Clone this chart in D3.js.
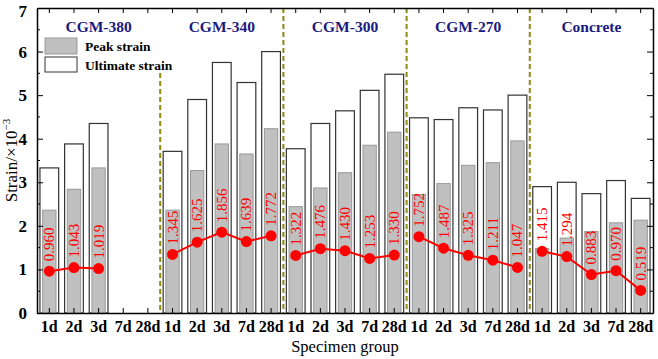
<!DOCTYPE html>
<html>
<head>
<meta charset="utf-8">
<script src="https://cdn.jsdelivr.net/npm/d3@7"></script>
<style>
  body { margin: 0; background: #fff; }
</style>
</head>
<body>
<div id="chart"></div>
<script>
// group names and ages
const groups = ["CGM-380", "CGM-340", "CGM-300", "CGM-270", "Concrete"];
const ages = ["1d", "2d", "3d", "7d", "28d"];

// ultimate strain (white bars), null = no data
const ultimate = [
  [3.33, 3.88, 4.35, null, null],
  [3.71, 4.90, 5.75, 5.29, 6.00],
  [3.77, 4.35, 4.64, 5.11, 5.48],
  [4.48, 4.44, 4.71, 4.66, 5.00],
  [2.90, 3.00, 2.74, 3.04, 2.63]
];
// peak strain (gray bars)
const peak = [
  [2.36, 2.84, 3.33, null, null],
  [2.36, 3.27, 3.88, 3.65, 4.23],
  [2.44, 2.87, 3.22, 3.85, 4.15],
  [2.72, 2.97, 3.39, 3.45, 3.95],
  [1.48, 1.72, 1.87, 2.07, 2.13]
];
// red line values (labelled)
const lineVals = [
  [0.960, 1.043, 1.019, null, null],
  [1.345, 1.625, 1.856, 1.639, 1.772],
  [1.322, 1.476, 1.430, 1.253, 1.330],
  [1.752, 1.487, 1.325, 1.211, 1.047],
  [1.415, 1.294, 0.883, 0.970, 0.519]
];
const yTicks = [0, 1, 2, 3, 4, 5, 6, 7];

const width = 658, height = 359;
const marginTop = 8, marginRight = 5, marginBottom = 45, marginLeft = 37;
const serif = '"Liberation Serif", "Times New Roman", serif';

// flatten into slots
const slots = [];
groups.forEach((g, gi) => ages.forEach((a, ai) => {
  slots.push({key: g + "|" + a, group: g, gi: gi, age: a,
    ult: ultimate[gi][ai], peak: peak[gi][ai], val: lineVals[gi][ai]});
}));

const x = d3.scaleBand()
  .domain(slots.map(d => d.key))
  .range([marginLeft, width - marginRight])
  .padding(0);

const y = d3.scaleLinear()
  .domain([0, 7])
  .range([height - marginBottom - 1, marginTop]);

const svg = d3.select("#chart").append("svg")
  .attr("width", width)
  .attr("height", height)
  .attr("viewBox", [0, 0, width, height])
  .style("display", "block");

const bw = x.bandwidth();
const cx = d => x(d.key) + bw / 2;

// ultimate bars (white)
svg.append("g")
  .selectAll("rect")
  .data(slots.filter(d => d.ult != null))
  .join("rect")
    .attr("x", d => cx(d) - bw * 0.38)
    .attr("width", bw * 0.76)
    .attr("y", d => y(d.ult))
    .attr("height", d => y(0) - y(d.ult))
    .attr("fill", "#fff")
    .attr("stroke", "#333")
    .attr("stroke-width", 1.2);

// peak bars (gray)
svg.append("g")
  .selectAll("rect")
  .data(slots.filter(d => d.peak != null))
  .join("rect")
    .attr("x", d => cx(d) - bw * 0.27)
    .attr("width", bw * 0.54)
    .attr("y", d => y(d.peak))
    .attr("height", d => y(0) - y(d.peak))
    .attr("fill", "#c0c0c0")
    .attr("stroke", "#999")
    .attr("stroke-width", 1);

// group dividers
const divX = [5, 10, 15, 20].map(i => x(slots[i].key));
svg.append("g")
  .selectAll("line")
  .data(divX)
  .join("line")
    .attr("x1", d => d).attr("x2", d => d)
    .attr("y1", (d, i) => i === 0 ? 73 : marginTop)
    .attr("y2", y(0))
    .attr("stroke", "#8a8a10")
    .attr("stroke-width", 2)
    .attr("stroke-dasharray", "5,3");

// axes frame with inward ticks
const leftAxis = svg.append("g")
  .attr("transform", `translate(${marginLeft},0)`)
  .call(d3.axisLeft(y).tickValues(yTicks).tickFormat(d3.format("d"))
    .tickSizeInner(-6).tickSizeOuter(0).tickPadding(10));
leftAxis.selectAll("text").attr("font-size", 17).attr("font-weight", "bold")
  .style("font-family", serif);
leftAxis.selectAll(".tick").filter(d => d === 7).select("text").attr("dy", "0.5em");

svg.append("g")
  .attr("transform", `translate(${width - marginRight},0)`)
  .call(d3.axisRight(y).tickValues(yTicks).tickSizeInner(-6).tickSizeOuter(0).tickFormat(""));

// minor ticks
const minors = d3.range(0.5, 7, 1);
svg.append("g").selectAll("line").data(minors).join("line")
  .attr("x1", marginLeft).attr("x2", marginLeft + 3)
  .attr("y1", d => y(d)).attr("y2", d => y(d)).attr("stroke", "#000");
svg.append("g").selectAll("line").data(minors).join("line")
  .attr("x1", width - marginRight).attr("x2", width - marginRight - 3)
  .attr("y1", d => y(d)).attr("y2", d => y(d)).attr("stroke", "#000");

const bottomAxis = svg.append("g")
  .attr("transform", `translate(0,${y(0)})`)
  .call(d3.axisBottom(x).tickSizeInner(-5).tickSizeOuter(0).tickPadding(8)
    .tickFormat(k => k.split("|")[1]));
bottomAxis.selectAll("text").attr("font-size", 16).attr("font-weight", "bold")
  .style("font-family", serif);

svg.append("g")
  .attr("transform", `translate(0,${marginTop})`)
  .call(d3.axisTop(x).tickSizeInner(-5).tickSizeOuter(0).tickFormat(""));

svg.selectAll(".domain").attr("stroke", "#000").attr("stroke-width", 1.5);
svg.selectAll(".tick line").attr("stroke", "#000");

// red line per group
const line = d3.line().x(d => cx(d)).y(d => y(d.val));
groups.forEach(g => {
  const gp = slots.filter(d => d.group === g && d.val != null);
  svg.append("path")
    .datum(gp)
    .attr("d", line)
    .attr("fill", "none")
    .attr("stroke", "#ff0000")
    .attr("stroke-width", 2);
});
const pts = slots.filter(d => d.val != null);
svg.append("g").selectAll("circle").data(pts).join("circle")
  .attr("cx", cx).attr("cy", d => y(d.val)).attr("r", 5.5)
  .attr("fill", "#ff0000");
svg.append("g").selectAll("text").data(pts).join("text")
  .attr("transform", d => `translate(${cx(d) + 5},${y(d.val) - 10}) rotate(-90)`)
  .attr("fill", "#ff0000")
  .style("font-family", serif)
  .attr("font-size", 15)
  .text(d => d3.format(".3f")(d.val));

// group labels
svg.append("g").selectAll("text").data(groups).join("text")
  .attr("x", (g, i) => (x(slots[i * 5].key) + x(slots[i * 5 + 4].key) + bw) / 2)
  .attr("y", 32)
  .attr("text-anchor", "middle")
  .style("font-family", serif)
  .attr("font-size", 15.5)
  .attr("font-weight", "bold")
  .attr("fill", "#1a1a80")
  .text(g => g);

// legend
const legend = svg.append("g").style("font-family", serif);
legend.append("rect").attr("x", 45).attr("y", 38).attr("width", 32).attr("height", 16)
  .attr("fill", "#c0c0c0").attr("stroke", "#999");
legend.append("rect").attr("x", 45).attr("y", 57).attr("width", 32).attr("height", 15)
  .attr("fill", "#fff").attr("stroke", "#333");
legend.append("text").attr("x", 85).attr("y", 51).attr("font-size", 13.5).attr("font-weight", "bold")
  .text("Peak strain");
legend.append("text").attr("x", 85).attr("y", 70).attr("font-size", 13.5).attr("font-weight", "bold")
  .text("Ultimate strain");

// axis titles
svg.append("text")
  .attr("transform", `translate(17,${(y(0) + y(7)) / 2}) rotate(-90)`)
  .attr("text-anchor", "middle")
  .style("font-family", serif)
  .attr("font-size", 17)
  .html("Strain/×10<tspan dy='-7' font-size='11'>−3</tspan>");

svg.append("text")
  .attr("x", (marginLeft + width - marginRight) / 2)
  .attr("y", 352)
  .attr("text-anchor", "middle")
  .style("font-family", serif)
  .attr("font-size", 16.5)
  .text("Specimen group");
</script>
</body>
</html>
